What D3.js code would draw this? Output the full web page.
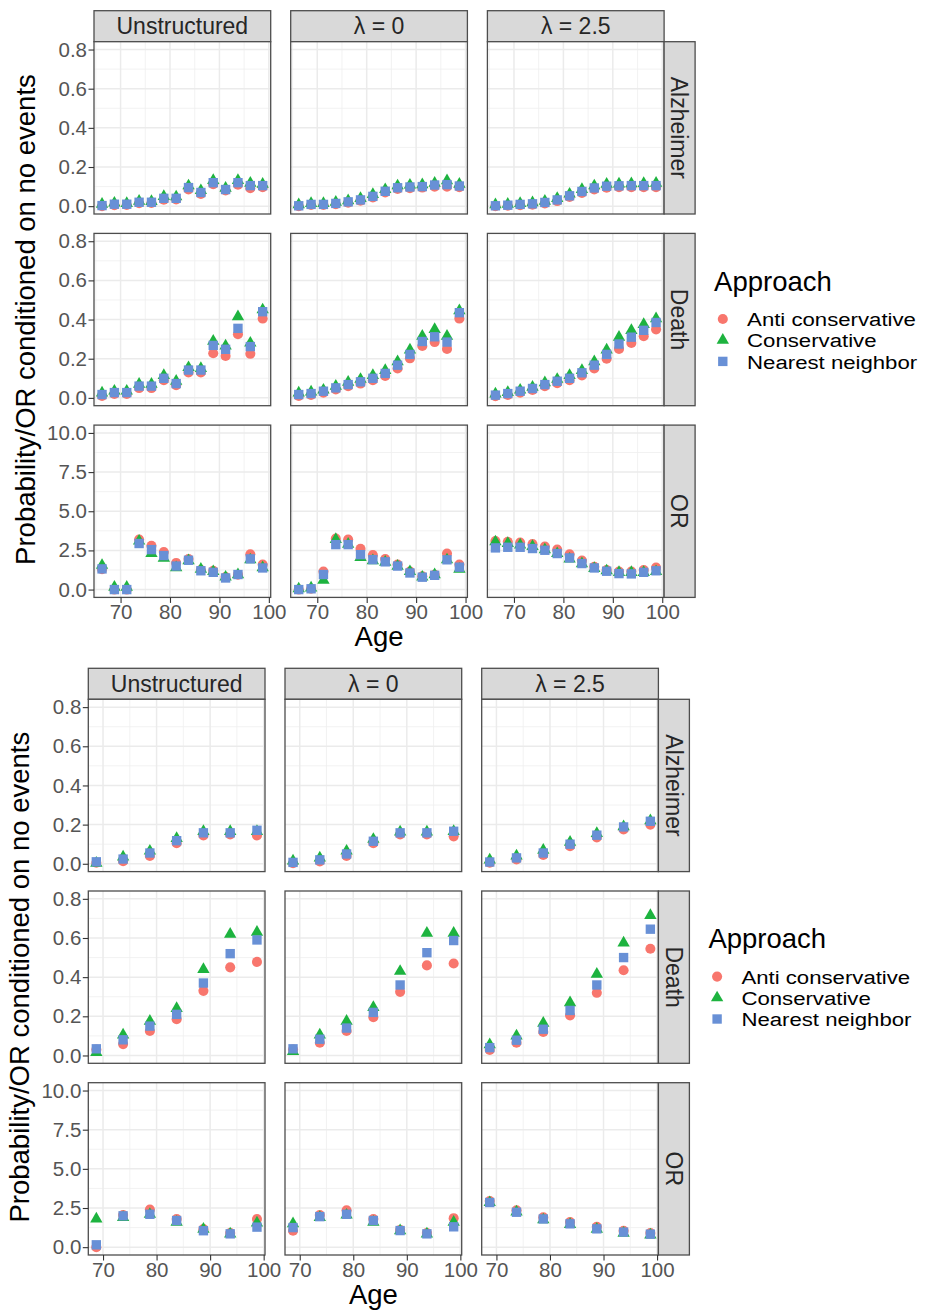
<!DOCTYPE html>
<html>
<head>
<meta charset="utf-8">
<script src="https://cdn.jsdelivr.net/npm/d3@7"></script>
<style>
  html, body { margin: 0; padding: 0; background: #ffffff; }
  svg { display: block; }
  text { font-family: "Liberation Sans", Arial, Helvetica, sans-serif; }
</style>
</head>
<body>
<svg id="chart" width="929" height="1313"></svg>
<script>
// ---------------- DATA ----------------
const approaches = ["Anti conservative", "Conservative", "Nearest neighbor"];
const columnLabels = ["Unstructured", "\u03bb = 0", "\u03bb = 2.5"];
const rowLabels = ["Alzheimer", "Death", "OR"];
const xTicks = [70, 80, 90, 100];
const probTicks = [0.0, 0.2, 0.4, 0.6, 0.8];
const orTicks = [0.0, 2.5, 5.0, 7.5, 10.0];

const agesTop = [66.25, 68.75, 71.25, 73.75, 76.25, 78.75, 81.25, 83.75, 86.25, 88.75, 91.25, 93.75, 96.25, 98.75];
const agesBottom = [68.75, 73.75, 78.75, 83.75, 88.75, 93.75, 98.75];

// Top figure: [Unstructured, lambda=0, lambda=2.5] for each approach
const topAlzheimerAnti = [
  [0.000, 0.005, 0.006, 0.015, 0.016, 0.033, 0.034, 0.085, 0.063, 0.112, 0.080, 0.110, 0.092, 0.097],
  [0.000, 0.006, 0.006, 0.010, 0.018, 0.028, 0.045, 0.070, 0.088, 0.092, 0.095, 0.100, 0.100, 0.097],
  [0.000, 0.002, 0.005, 0.008, 0.014, 0.026, 0.047, 0.068, 0.086, 0.094, 0.097, 0.097, 0.097, 0.097]];
const topAlzheimerCons = [
  [0.010, 0.016, 0.014, 0.026, 0.024, 0.050, 0.048, 0.104, 0.080, 0.132, 0.092, 0.132, 0.118, 0.112],
  [0.008, 0.014, 0.014, 0.020, 0.028, 0.040, 0.060, 0.085, 0.104, 0.108, 0.110, 0.118, 0.130, 0.112],
  [0.008, 0.010, 0.014, 0.018, 0.026, 0.040, 0.062, 0.086, 0.104, 0.112, 0.114, 0.115, 0.116, 0.118]];
const topAlzheimerNN = [
  [0.003, 0.010, 0.010, 0.020, 0.020, 0.040, 0.040, 0.095, 0.070, 0.120, 0.085, 0.120, 0.105, 0.105],
  [0.002, 0.009, 0.009, 0.014, 0.022, 0.032, 0.050, 0.076, 0.094, 0.098, 0.100, 0.108, 0.110, 0.103],
  [0.002, 0.005, 0.009, 0.012, 0.019, 0.032, 0.053, 0.075, 0.093, 0.102, 0.104, 0.105, 0.105, 0.105]];

const topDeathAnti = [
  [0.010, 0.020, 0.020, 0.050, 0.050, 0.090, 0.065, 0.130, 0.130, 0.228, 0.214, 0.325, 0.225, 0.405],
  [0.010, 0.015, 0.027, 0.043, 0.060, 0.073, 0.090, 0.112, 0.150, 0.202, 0.265, 0.285, 0.250, 0.405],
  [0.008, 0.015, 0.027, 0.040, 0.060, 0.075, 0.090, 0.115, 0.150, 0.200, 0.250, 0.280, 0.315, 0.350]];
const topDeathCons = [
  [0.025, 0.035, 0.035, 0.070, 0.070, 0.115, 0.085, 0.155, 0.150, 0.290, 0.265, 0.415, 0.280, 0.450],
  [0.025, 0.030, 0.040, 0.060, 0.080, 0.095, 0.115, 0.140, 0.185, 0.245, 0.315, 0.350, 0.315, 0.445],
  [0.020, 0.028, 0.040, 0.055, 0.078, 0.095, 0.115, 0.140, 0.185, 0.245, 0.310, 0.345, 0.375, 0.405]];
const topDeathNN = [
  [0.017, 0.027, 0.027, 0.060, 0.060, 0.100, 0.073, 0.142, 0.142, 0.268, 0.248, 0.355, 0.262, 0.440],
  [0.017, 0.022, 0.034, 0.051, 0.068, 0.082, 0.100, 0.125, 0.167, 0.222, 0.288, 0.312, 0.285, 0.435],
  [0.014, 0.022, 0.034, 0.048, 0.068, 0.085, 0.100, 0.128, 0.167, 0.222, 0.275, 0.310, 0.345, 0.385]];

const topORAnti = [
  [1.30, 0.00, 0.00, 3.20, 2.80, 2.40, 1.70, 1.95, 1.25, 1.20, 0.80, 0.95, 2.25, 1.60],
  [0.00, 0.05, 1.15, 3.25, 3.20, 2.60, 2.20, 1.95, 1.60, 1.15, 0.85, 0.95, 2.30, 1.60],
  [3.10, 3.05, 3.00, 2.90, 2.75, 2.55, 2.25, 1.85, 1.45, 1.25, 1.15, 1.15, 1.25, 1.40]];
const topORCons = [
  [1.55, 0.15, 0.15, 3.10, 2.30, 2.00, 1.40, 1.85, 1.30, 1.15, 0.80, 0.95, 1.90, 1.40],
  [0.05, 0.10, 0.60, 3.20, 2.90, 2.05, 1.85, 1.75, 1.50, 1.15, 0.80, 0.95, 1.90, 1.30],
  [3.05, 2.95, 2.85, 2.75, 2.55, 2.30, 1.95, 1.65, 1.35, 1.20, 1.10, 1.10, 1.10, 1.15]];
const topORNN = [
  [1.32, 0.00, 0.00, 2.94, 2.55, 2.17, 1.50, 1.87, 1.20, 1.10, 0.74, 0.96, 1.96, 1.38],
  [0.00, 0.05, 0.96, 2.87, 2.87, 2.23, 1.91, 1.77, 1.50, 1.06, 0.79, 0.91, 1.90, 1.43],
  [2.66, 2.70, 2.70, 2.62, 2.51, 2.30, 2.02, 1.66, 1.38, 1.17, 1.02, 1.00, 1.10, 1.20]];

// Bottom figure
const bottomAlzheimerAnti = [
  [0.005, 0.013, 0.040, 0.105, 0.145, 0.150, 0.145],
  [0.003, 0.012, 0.040, 0.105, 0.150, 0.150, 0.140],
  [0.005, 0.022, 0.045, 0.090, 0.135, 0.175, 0.200]];
const bottomAlzheimerCons = [
  [0.003, 0.035, 0.065, 0.130, 0.165, 0.165, 0.165],
  [0.015, 0.030, 0.065, 0.125, 0.163, 0.163, 0.165],
  [0.020, 0.040, 0.070, 0.110, 0.155, 0.190, 0.220]];
const bottomAlzheimerNN = [
  [0.010, 0.024, 0.055, 0.118, 0.158, 0.158, 0.171],
  [0.007, 0.020, 0.050, 0.115, 0.158, 0.158, 0.166],
  [0.009, 0.030, 0.055, 0.100, 0.146, 0.188, 0.217]];

const bottomDeathAnti = [
  [0.030, 0.058, 0.125, 0.185, 0.330, 0.450, 0.478],
  [0.030, 0.065, 0.125, 0.195, 0.325, 0.460, 0.470],
  [0.028, 0.065, 0.120, 0.205, 0.320, 0.435, 0.545]];
const bottomDeathCons = [
  [0.015, 0.105, 0.175, 0.240, 0.440, 0.620, 0.630],
  [0.020, 0.105, 0.175, 0.245, 0.430, 0.625, 0.625],
  [0.055, 0.100, 0.165, 0.270, 0.415, 0.575, 0.715]];
const bottomDeathNN = [
  [0.034, 0.080, 0.150, 0.210, 0.370, 0.520, 0.590],
  [0.034, 0.083, 0.140, 0.220, 0.360, 0.525, 0.587],
  [0.040, 0.078, 0.134, 0.230, 0.360, 0.500, 0.645]];

const bottomORAnti = [
  [0.00, 2.05, 2.40, 1.80, 1.15, 0.90, 1.80],
  [1.05, 2.05, 2.35, 1.80, 1.10, 0.90, 1.85],
  [2.95, 2.35, 1.90, 1.60, 1.30, 1.05, 0.90]];
const bottomORCons = [
  [1.80, 1.90, 2.10, 1.60, 1.15, 0.85, 1.55],
  [1.50, 1.90, 2.05, 1.60, 1.05, 0.85, 1.60],
  [2.85, 2.25, 1.75, 1.45, 1.15, 0.90, 0.78]];
const bottomORNN = [
  [0.15, 2.00, 2.10, 1.70, 1.05, 0.85, 1.28],
  [1.25, 1.95, 2.10, 1.70, 1.06, 0.85, 1.30],
  [2.85, 2.23, 1.80, 1.49, 1.17, 0.96, 0.83]];

// ---------------- STYLE / LAYOUT ----------------
const colors = ["#F8766D", "#1DB33F", "#6890D6"];
const symbolTypes = [d3.symbolCircle, d3.symbolTriangle, d3.symbolSquare];
const symbolSizes = [80, 66, 88];

const svg = d3.select("#chart");

function byColumn(seriesList) {
  // reshape [approach][column] -> [column][approach]
  const out = [[], [], []];
  seriesList.forEach((s, a) => s.forEach((v, c) => { out[c][a] = v; }));
  return out;
}

function drawFigure(cfg) {
  const g = svg.append("g").attr("transform", `translate(${cfg.ox},${cfg.oy})`);
  const panelLeft = 94, colW = 176.7, colGap = 20;
  const stripTop = 10.7, stripH = 31, rowH = 172.3, rowGap = 19.4;
  const panelTop0 = stripTop + stripH;
  const rowsData = [cfg.alz, cfg.death, cfg.or];
  const lastRight = panelLeft + 3 * colW + 2 * colGap;

  for (let c = 0; c < 3; c++) {
    const x0 = panelLeft + c * (colW + colGap);
    const x = d3.scaleLinear().domain(cfg.xDomain).range([x0, x0 + colW]);
    // top strip
    g.append("rect").attr("x", x0).attr("y", stripTop).attr("width", colW).attr("height", stripH)
      .attr("fill", "#D9D9D9").attr("stroke", "#4D4D4D").attr("stroke-width", 1.3);
    g.append("text").attr("x", x0 + colW / 2).attr("y", stripTop + stripH / 2 + 8.2)
      .attr("text-anchor", "middle").attr("font-size", 23).attr("fill", "#262626")
      .text(columnLabels[c]);

    for (let r = 0; r < 3; r++) {
      const y0 = panelTop0 + r * (rowH + rowGap);
      const isOR = r === 2;
      const y = d3.scaleLinear().domain(isOR ? [-0.5, 10.5] : [-0.04, 0.84]).range([y0 + rowH, y0]);
      const pg = g.append("g");
      pg.append("rect").attr("x", x0).attr("y", y0).attr("width", colW).attr("height", rowH).attr("fill", "#fff");
      // minor grid
      const yMinor = isOR ? [1.25, 3.75, 6.25, 8.75] : [0.1, 0.3, 0.5, 0.7];
      const xMinor = [65, 75, 85, 95].filter(v => v > cfg.xDomain[0] && v < cfg.xDomain[1]);
      pg.selectAll(null).data(yMinor).join("line")
        .attr("x1", x0).attr("x2", x0 + colW).attr("y1", d => y(d)).attr("y2", d => y(d))
        .attr("stroke", "#EFEFEF").attr("stroke-width", 0.8);
      pg.selectAll(null).data(xMinor).join("line")
        .attr("x1", d => x(d)).attr("x2", d => x(d)).attr("y1", y0).attr("y2", y0 + rowH)
        .attr("stroke", "#EFEFEF").attr("stroke-width", 0.8);
      // major grid
      const yMajor = isOR ? orTicks : probTicks;
      pg.selectAll(null).data(yMajor).join("line")
        .attr("x1", x0).attr("x2", x0 + colW).attr("y1", d => y(d)).attr("y2", d => y(d))
        .attr("stroke", "#EBEBEB").attr("stroke-width", 1.5);
      pg.selectAll(null).data(xTicks).join("line")
        .attr("x1", d => x(d)).attr("x2", d => x(d)).attr("y1", y0).attr("y2", y0 + rowH)
        .attr("stroke", "#EBEBEB").attr("stroke-width", 1.5);

      // points: draw by approach order (red, green, blue)
      const series = rowsData[r][c];
      series.forEach((vals, a) => {
        pg.selectAll(null).data(vals.map((v, i) => ({ age: cfg.ages[i], v }))).join("path")
          .attr("transform", d => `translate(${x(d.age)},${y(d.v)})`)
          .attr("d", d3.symbol().type(symbolTypes[a]).size(symbolSizes[a]))
          .attr("fill", colors[a]);
      });

      // border
      pg.append("rect").attr("x", x0).attr("y", y0).attr("width", colW).attr("height", rowH)
        .attr("fill", "none").attr("stroke", "#4D4D4D").attr("stroke-width", 1.3);

      // y axis on first column
      if (c === 0) {
        const yAxis = d3.axisLeft(y).tickValues(yMajor).tickSize(5.5).tickPadding(1.5)
          .tickFormat(d3.format(".1f"));
        const ag = g.append("g").attr("transform", `translate(${x0},0)`).call(yAxis);
        ag.select(".domain").remove();
        ag.selectAll(".tick line").attr("stroke", "#333").attr("stroke-width", 1.1);
        ag.selectAll(".tick text").attr("font-size", 20.5).attr("fill", "#555")
          .attr("font-family", "Liberation Sans, Arial, sans-serif");
      }
      // x axis on last row
      if (r === 2) {
        const xAxis = d3.axisBottom(x).tickValues(xTicks).tickSize(5.5).tickPadding(2)
          .tickFormat(d3.format("d"));
        const ag = g.append("g").attr("transform", `translate(0,${y0 + rowH})`).call(xAxis);
        ag.select(".domain").remove();
        ag.selectAll(".tick line").attr("stroke", "#333").attr("stroke-width", 1.1);
        ag.selectAll(".tick text").attr("font-size", 20.5).attr("fill", "#555")
          .attr("font-family", "Liberation Sans, Arial, sans-serif");
      }
      // right strips
      if (c === 2) {
        g.append("rect").attr("x", lastRight).attr("y", y0).attr("width", 31).attr("height", rowH)
          .attr("fill", "#D9D9D9").attr("stroke", "#4D4D4D").attr("stroke-width", 1.3);
        g.append("text")
          .attr("transform", `translate(${lastRight + 15.5 - 8.2},${y0 + rowH / 2}) rotate(90)`)
          .attr("text-anchor", "middle").attr("font-size", 23).attr("fill", "#262626")
          .text(rowLabels[r]);
      }
    }
  }

  const panelsBottom = panelTop0 + 3 * rowH + 2 * rowGap;
  // axis titles
  g.append("text").attr("x", (panelLeft + lastRight) / 2).attr("y", panelsBottom + 49)
    .attr("text-anchor", "middle").attr("font-size", 27.5).attr("fill", "#000").text("Age");
  g.append("text")
    .attr("transform", `translate(${25 + 9.5},${(panelTop0 + panelsBottom) / 2}) rotate(-90)`)
    .attr("text-anchor", "middle").attr("font-size", 27.5).attr("fill", "#000")
    .text("Probability/OR conditioned on no events");

  // legend
  const lx = lastRight + 31;
  const lg = g.append("g");
  lg.append("text").attr("x", lx + 19).attr("y", 290.7).attr("font-size", 27.5).attr("fill", "#000").text("Approach");
  approaches.forEach((name, a) => {
    const yy = 319 + a * 21.2;
    lg.append("path").attr("transform", `translate(${lx + 27.7},${yy})`)
      .attr("d", d3.symbol().type(symbolTypes[a]).size(symbolSizes[a])).attr("fill", colors[a]);
    lg.append("text").attr("transform", `translate(${lx + 52},${yy + 7.2}) scale(1.18,1)`)
      .attr("font-size", 18.8).attr("fill", "#000").text(name);
  });
}

drawFigure({
  ox: 0, oy: 0, xDomain: [64.625, 100.375], ages: agesTop,
  alz: byColumn([topAlzheimerAnti, topAlzheimerCons, topAlzheimerNN]),
  death: byColumn([topDeathAnti, topDeathCons, topDeathNN]),
  or: byColumn([topORAnti, topORCons, topORNN])
});
drawFigure({
  ox: -5.7, oy: 657.6, xDomain: [67.25, 100.25], ages: agesBottom,
  alz: byColumn([bottomAlzheimerAnti, bottomAlzheimerCons, bottomAlzheimerNN]),
  death: byColumn([bottomDeathAnti, bottomDeathCons, bottomDeathNN]),
  or: byColumn([bottomORAnti, bottomORCons, bottomORNN])
});
</script>
</body>
</html>
